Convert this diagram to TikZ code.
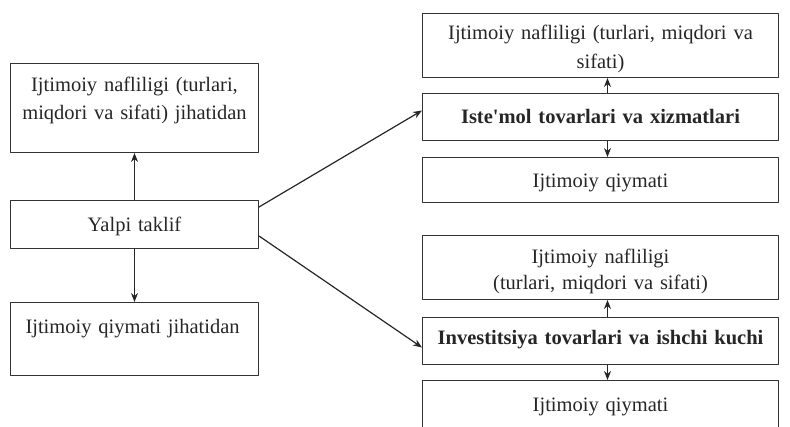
\documentclass[tikz,border=0pt]{standalone}
\usepackage{fontspec}
\setmainfont{Liberation Serif}
\usetikzlibrary{arrows.meta}
\begin{document}
\begin{tikzpicture}[x=1pt,y=-1pt,line cap=round,line join=round,>={Stealth[length=9pt,width=7pt]},
		box/.style={draw=black!80,line width=1pt,rectangle,anchor=north west,inner sep=0pt,align=center,text=black!85,font=\fontsize{20.5}{28}\selectfont},
		arr/.style={->,line width=1.2pt,black!85}]
	\useasboundingbox (0,0) rectangle (790,426);
	\clip (0,0) rectangle (790,426);
	\node[box,text width=248pt,text height=28pt,text depth=61pt] (nafl) at (10,63) {Ijtimoiy nafliligi (turlari,\\miqdori va sifati) jihatidan};
	\node[box,text width=248pt,text height=31pt,text depth=17pt] (yalpi) at (10,200) {Yalpi taklif};
	\node[box,align=left,inner xsep=15pt,text width=218pt,text height=31pt,text depth=42pt] (qiym) at (10,302) {Ijtimoiy qiymati jihatidan};
	\node[box,text width=356pt,text height=26pt,text depth=38pt,font=\fontsize{20.5}{29}\selectfont] (nafla) at (422,13) {Ijtimoiy nafliligi (turlari, miqdori va\\sifati)};
	\node[box,text width=356pt,text height=30pt,text depth=17pt,font=\fontsize{20.5}{28}\selectfont\bfseries] (istemol) at (422,93) {Iste\textquotesingle mol tovarlari va xizmatlari};
	\node[box,text width=356pt,text height=30pt,text depth=15pt] (qiyma) at (422,157) {Ijtimoiy qiymati};
	\node[box,text width=356pt,text height=28pt,text depth=36pt,font=\fontsize{20.5}{26}\selectfont] (naflb) at (422,235) {Ijtimoiy nafliligi\\(turlari, miqdori va sifati)};
	\node[box,text width=356pt,text height=27pt,text depth=20pt,font=\fontsize{20.5}{28}\selectfont\bfseries] (invest) at (422,317) {Investitsiya tovarlari va ishchi kuchi};
	\node[box,text width=356pt,text height=31pt,text depth=29pt] (qiymb) at (422,380) {Ijtimoiy qiymati};
	\draw[arr] (yalpi.north) -- (nafl.south);
	\draw[arr] (yalpi.south) -- (qiym.north);
	\draw[arr] ([yshift=-7pt]yalpi.north east) -- ([yshift=6.5pt]istemol.west);
	\draw[arr] ([yshift=13pt]yalpi.south east) -- ([yshift=-6.5pt]invest.west);
	\draw[arr] ([xshift=7pt]istemol.north) -- ([xshift=7pt]nafla.south);
	\draw[arr] ([xshift=7pt]istemol.south) -- ([xshift=7pt]qiyma.north);
	\draw[arr] ([xshift=7pt]invest.north) -- ([xshift=7pt]naflb.south);
	\draw[arr] ([xshift=7pt]invest.south) -- ([xshift=7pt]qiymb.north);
\end{tikzpicture}
\end{document}
